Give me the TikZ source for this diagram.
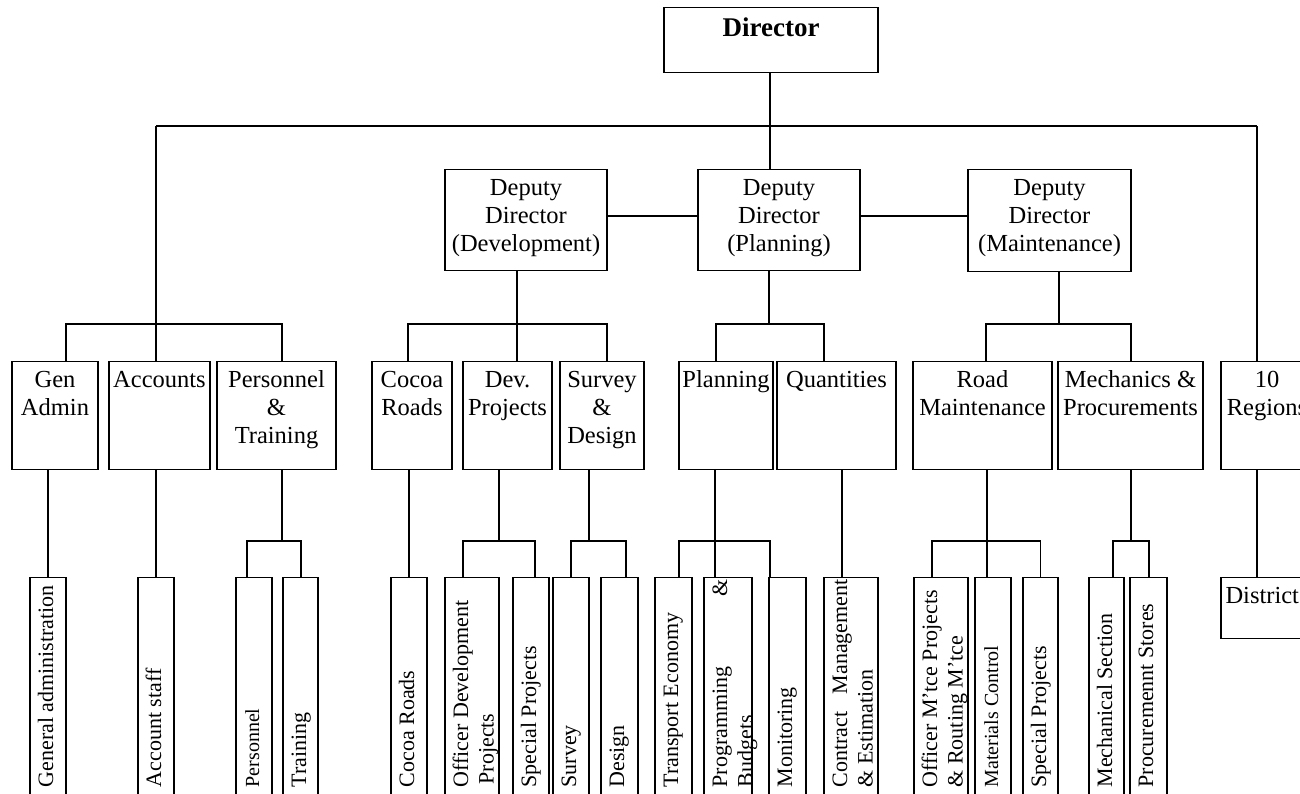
\documentclass[tikz,border=0pt]{standalone}
\usepackage{fontspec}
\setmainfont{Liberation Serif}
\newcommand\orgmidfont{\fontsize{24.5}{28}\selectfont}
\newcommand\orglowfont{\fontsize{22}{25.5}\selectfont}
\newcommand\orgsmlfont{\fontsize{20}{24}\selectfont}
\newcommand\orgdirfont{\bfseries\fontsize{27}{30}\selectfont}
% name, x left, x right, y top, y bottom, text (first baseline 26 below top)
\newcommand\orgmid[6]{%
  \node[bx, minimum width={#3-#2}, minimum height={#5-#4}] (#1) at ({(#2+#3)/2},#4) {};
  \node[midtxt] (#1-t) at ({(#2+#3)/2},{#4+26}) {\begin{tabular}[t]{@{}c@{}}#6\end{tabular}};}
% name, x left, x right, font, text (rotated, reads bottom to top)
\newcommand\orglow[5]{%
  \node[bx, minimum width={#3-#2}, minimum height=260] (#1) at ({(#2+#3)/2},577) {};
  \node[lowtxt, font=#4] (#1-t) at ({#2+23},788) {\begin{tabular}[t]{@{}l@{}}#5\end{tabular}};}
\begin{document}
\begin{tikzpicture}[x=1pt, y=-1pt, line width=1.3pt,
  bx/.style={draw, anchor=north, inner sep=0pt},
  midtxt/.style={anchor=base, inner sep=0pt, font=\orgmidfont},
  lowtxt/.style={rotate=90, anchor=base west, inner sep=0pt}]
\useasboundingbox (0,0) rectangle (1300,793);
\clip (0,0) rectangle (1300,793);

% Director
\node[bx, minimum width=214, minimum height=65] (dir) at (771,7) {};
\node[midtxt, font=\orgdirfont] (dir-t) at (771,36) {Director};

% Deputies
\orgmid{ddev}{445}{607}{169}{270}{Deputy\\Director\\(Development)}
\orgmid{dplan}{698}{860}{169}{270}{Deputy\\Director\\(Planning)}
\orgmid{dmaint}{968}{1131}{169}{271}{Deputy\\Director\\(Maintenance)}

% Level 2
\orgmid{genadm}{12}{98}{361}{469}{Gen\\Admin}
\orgmid{accts}{109}{210}{361}{469}{Accounts}
\orgmid{perstr}{217}{336}{361}{469}{Personnel\\\&\\Training}
\orgmid{cocoa}{372}{452}{361}{469}{Cocoa\\Roads}
\orgmid{devproj}{463}{552}{361}{469}{Dev.\\Projects}
\orgmid{survdes}{560}{644}{361}{469}{Survey\\\&\\Design}
\orgmid{plan}{679}{773}{361}{469}{Planning}
\orgmid{quant}{777}{896}{361}{469}{Quantities}
\orgmid{roadm}{913}{1052}{361}{469}{Road\\Maintenance}
\orgmid{mechp}{1058}{1203}{361}{469}{Mechanics \&\\Procurements}
\orgmid{regions}{1221}{1313}{361}{469}{10\\Regions}
\orgmid{di}{1221}{1313}{577}{638}{Districts}

% Level 3
\orglow{ga}{30}{66}{\orglowfont}{General administration}
\orglow{as}{138}{174}{\orglowfont}{Account staff}
\orglow{pe}{236}{272}{\orgsmlfont}{Personnel}
\orglow{tr}{283}{318}{\orglowfont}{Training}
\orglow{cr}{391}{427}{\orglowfont}{Cocoa Roads}
\orglow{od}{445}{499}{\orglowfont}{Officer Development\\\hspace{3pt}Projects}
\orglow{spa}{513}{549}{\orglowfont}{Special Projects}
\orglow{sv}{553}{589}{\orglowfont}{Survey}
\orglow{dg}{601}{638}{\orglowfont}{Design}
\orglow{te}{655}{692}{\orglowfont}{Transport Economy}
\orglow{pb}{704}{752}{\orglowfont}{\makebox[208pt][s]{Programming \&}\\Budgets}
\orglow{mo}{769}{806}{\orglowfont}{Monitoring}
\orglow{cm}{824}{878}{\orglowfont}{\makebox[208pt][s]{Contract Management}\\\& Estimation}
\orglow{om}{914}{968}{\orglowfont}{Officer M’tce Projects\\\& Routing M’tce}
\orglow{mc}{975}{1011}{\orgsmlfont}{Materials Control}
\orglow{spb}{1023}{1058}{\orglowfont}{Special Projects}
\orglow{ms}{1089}{1124}{\orglowfont}{Mechanical Section}
\orglow{ps}{1130}{1167}{\orglowfont}{Procuremennt Stores}

% helper coordinates
\coordinate (tL) at (156,126);
\coordinate (tR) at (1257,126);
\coordinate (hD) at (0,216);
\coordinate (busA) at (0,324);
\coordinate (busB) at (0,541);

% top connectors
\draw ([xshift=-1pt]dir.south) -- ([xshift=-1pt]dir.south |- dplan.north);
\draw (tL) -- (tR);
\draw (tL) -- (tL |- accts.north);
\draw (tR) -- (tR |- regions.north);
\draw (ddev.east |- hD) -- (dplan.west |- hD);
\draw (dplan.east |- hD) -- (dmaint.west |- hD);

% level 1 -> level 2
\draw ([xshift=11pt]genadm.north) |- ([xshift=5.5pt]perstr.north |- busA) -- ([xshift=5.5pt]perstr.north);
\draw ([xshift=-9pt]ddev.south) -- ([xshift=9.5pt]devproj.north);
\draw ([xshift=-4pt]cocoa.north) |- ([xshift=5pt]survdes.north |- busA) -- ([xshift=5pt]survdes.north);
\draw ([xshift=-10pt]dplan.south) -- ([xshift=-10pt]dplan.south |- busA);
\draw ([xshift=-10pt]plan.north) |- ([xshift=-12.5pt]quant.north |- busA) -- ([xshift=-12.5pt]quant.north);
\draw ([xshift=9.5pt]dmaint.south) -- ([xshift=9.5pt]dmaint.south |- busA);
\draw ([xshift=3.5pt]roadm.north) |- ([xshift=0.5pt]mechp.north |- busA) -- ([xshift=0.5pt]mechp.north);

% level 2 -> level 3
\draw ([xshift=-7pt]genadm.south) -- (ga.north);
\draw (tL |- accts.south) -- (tL |- as.north);
\draw ([xshift=5.5pt]perstr.south) -- ([xshift=5.5pt]perstr.south |- busB);
\draw ([xshift=-7pt]pe.north) |- ([xshift=0.5pt]tr.north |- busB) -- ([xshift=0.5pt]tr.north);
\draw ([xshift=-3pt]cocoa.south) -- (cr.north);
\draw ([xshift=-8.5pt]devproj.south) -- ([xshift=-8.5pt]devproj.south |- busB);
\draw ([xshift=-9pt]od.north) |- ([xshift=4pt]spa.north |- busB) -- ([xshift=4pt]spa.north);
\draw ([xshift=-13pt]survdes.south) -- ([xshift=-13pt]survdes.south |- busB);
\draw (sv.north) |- ([xshift=6.5pt]dg.north |- busB) -- ([xshift=6.5pt]dg.north);
\draw ([xshift=-11pt]plan.south) -- ([xshift=-11pt]plan.south |- pb.north);
\draw ([xshift=5.5pt]te.north) |- ([xshift=-17.5pt]mo.north |- busB) -- ([xshift=-17.5pt]mo.north);
\draw ([xshift=5.5pt]quant.south) -- ([xshift=5.5pt]quant.south |- cm.north);
\draw ([xshift=4.5pt]roadm.south) -- ([xshift=4.5pt]roadm.south |- mc.north);
\draw ([xshift=-9pt]om.north) |- (spb.north |- busB) -- (spb.north);
\draw ([xshift=0.5pt]mechp.south) -- ([xshift=0.5pt]mechp.south |- busB);
\draw ([xshift=6.5pt]ms.north) |- ([xshift=0.5pt]ps.north |- busB) -- ([xshift=0.5pt]ps.north);
\draw (tR |- regions.south) -- (tR |- di.north);
\end{tikzpicture}
\end{document}
